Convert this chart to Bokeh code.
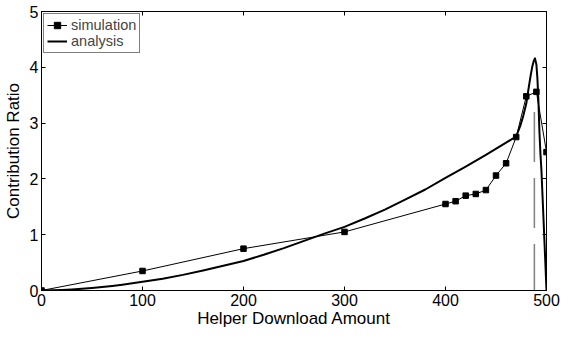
from bokeh.plotting import figure
from bokeh.models import (Range1d, LinearAxis, FixedTicker, Legend, LegendItem,
                          CustomLabelingPolicy)
from bokeh.embed import file_html
from bokeh.resources import INLINE

# ---- data ----
sim_x = [0, 100, 200, 300, 400, 410, 420, 430, 440, 450, 460, 470, 480, 490, 500]
sim_y = [0, 0.35, 0.75, 1.05, 1.55, 1.60, 1.70, 1.73, 1.80, 2.06, 2.28, 2.75, 3.48, 3.56, 2.48]

ana_x = [0, 10, 20, 30, 40, 50, 60, 70, 80, 90, 100, 120, 140, 160, 180, 200,
         220, 240, 260, 280, 300, 320, 340, 360, 380, 400, 420, 440, 460, 470,
         474, 477, 480, 482, 484, 486, 487.5, 488.6, 490, 491, 492, 493, 494,
         495, 496, 497, 498, 499, 500]
ana_y = [0, 0.003, 0.009, 0.018, 0.03, 0.045, 0.062, 0.082, 0.104, 0.128, 0.155,
         0.21, 0.28, 0.36, 0.445, 0.53, 0.64, 0.76, 0.89, 1.02, 1.14, 1.29, 1.45,
         1.63, 1.81, 2.02, 2.22, 2.43, 2.65, 2.76, 2.95, 3.13, 3.35, 3.59, 3.82,
         4.02, 4.12, 4.16, 4.05, 3.80, 3.40, 2.85, 2.45, 2.15, 1.72, 1.30, 0.87,
         0.44, 0]

marker_x = [488, 488]
marker_y = [3.2, 0]

x_ticks = [0, 100, 200, 300, 400, 500]
y_ticks = [0, 1, 2, 3, 4, 5]

FONT = "Liberation Sans"

p = figure(width=560, height=334, x_range=Range1d(0, 500), y_range=Range1d(0, 5),
           output_backend="svg", toolbar_location=None,
           min_border_left=35, min_border_right=14, min_border_top=7,
           min_border_bottom=44)

p.xgrid.visible = False
p.ygrid.visible = False
p.outline_line_color = "black"
p.outline_line_width = 1
p.background_fill_color = "white"
p.border_fill_color = "white"


def style_axis(ax, ticks, show_labels):
    ax.ticker = FixedTicker(ticks=ticks)
    ax.major_tick_in = 4
    ax.major_tick_out = 0
    ax.minor_tick_line_color = None
    ax.axis_line_color = "black"
    ax.major_tick_line_color = "black"
    if show_labels:
        ax.major_label_text_font = FONT
        ax.major_label_text_font_size = "16px"
        ax.major_label_text_color = "black"
        ax.axis_label_text_font = FONT
        ax.axis_label_text_font_size = "17px"
        ax.axis_label_text_font_style = "normal"
        ax.axis_label_text_color = "black"
    else:
        ax.major_label_policy = CustomLabelingPolicy(code="return new Set()")
        ax.major_label_standoff = 0


xa = p.xaxis[0]
ya = p.yaxis[0]
style_axis(xa, x_ticks, True)
style_axis(ya, y_ticks, True)
xa.axis_label = "Helper Download Amount"
ya.axis_label = "Contribution Ratio"
xa.major_label_standoff = 3
xa.axis_label_standoff = 0
ya.major_label_standoff = 3
ya.axis_label_standoff = 4

top = LinearAxis()
style_axis(top, x_ticks, False)
p.add_layout(top, "above")
right = LinearAxis()
style_axis(right, y_ticks, False)
p.add_layout(right, "right")

p.line(marker_x, marker_y, line_color="#808080", line_width=1.5, line_dash="50 16")

ana_line = p.line(ana_x, ana_y, line_color="black", line_width=2, line_join="round")
sim_line = p.line(sim_x, sim_y, line_color="black", line_width=1)
sim_pts = p.scatter(sim_x, sim_y, marker="square", size=5.5, fill_color="black",
                    line_color="black")

legend = Legend(items=[LegendItem(label="simulation", renderers=[sim_line, sim_pts]),
                       LegendItem(label="analysis", renderers=[ana_line])],
                location="top_left")
legend.border_line_color = "black"
legend.border_line_width = 1
legend.background_fill_alpha = 1
legend.margin = 2
legend.padding = 3
legend.spacing = 0
legend.label_text_font = FONT
legend.label_text_font_size = "14.5px"
legend.label_height = 16
legend.glyph_height = 16
legend.glyph_width = 20
legend.label_standoff = 4
p.add_layout(legend)

open("out.html", "w").write(file_html(p, INLINE))
